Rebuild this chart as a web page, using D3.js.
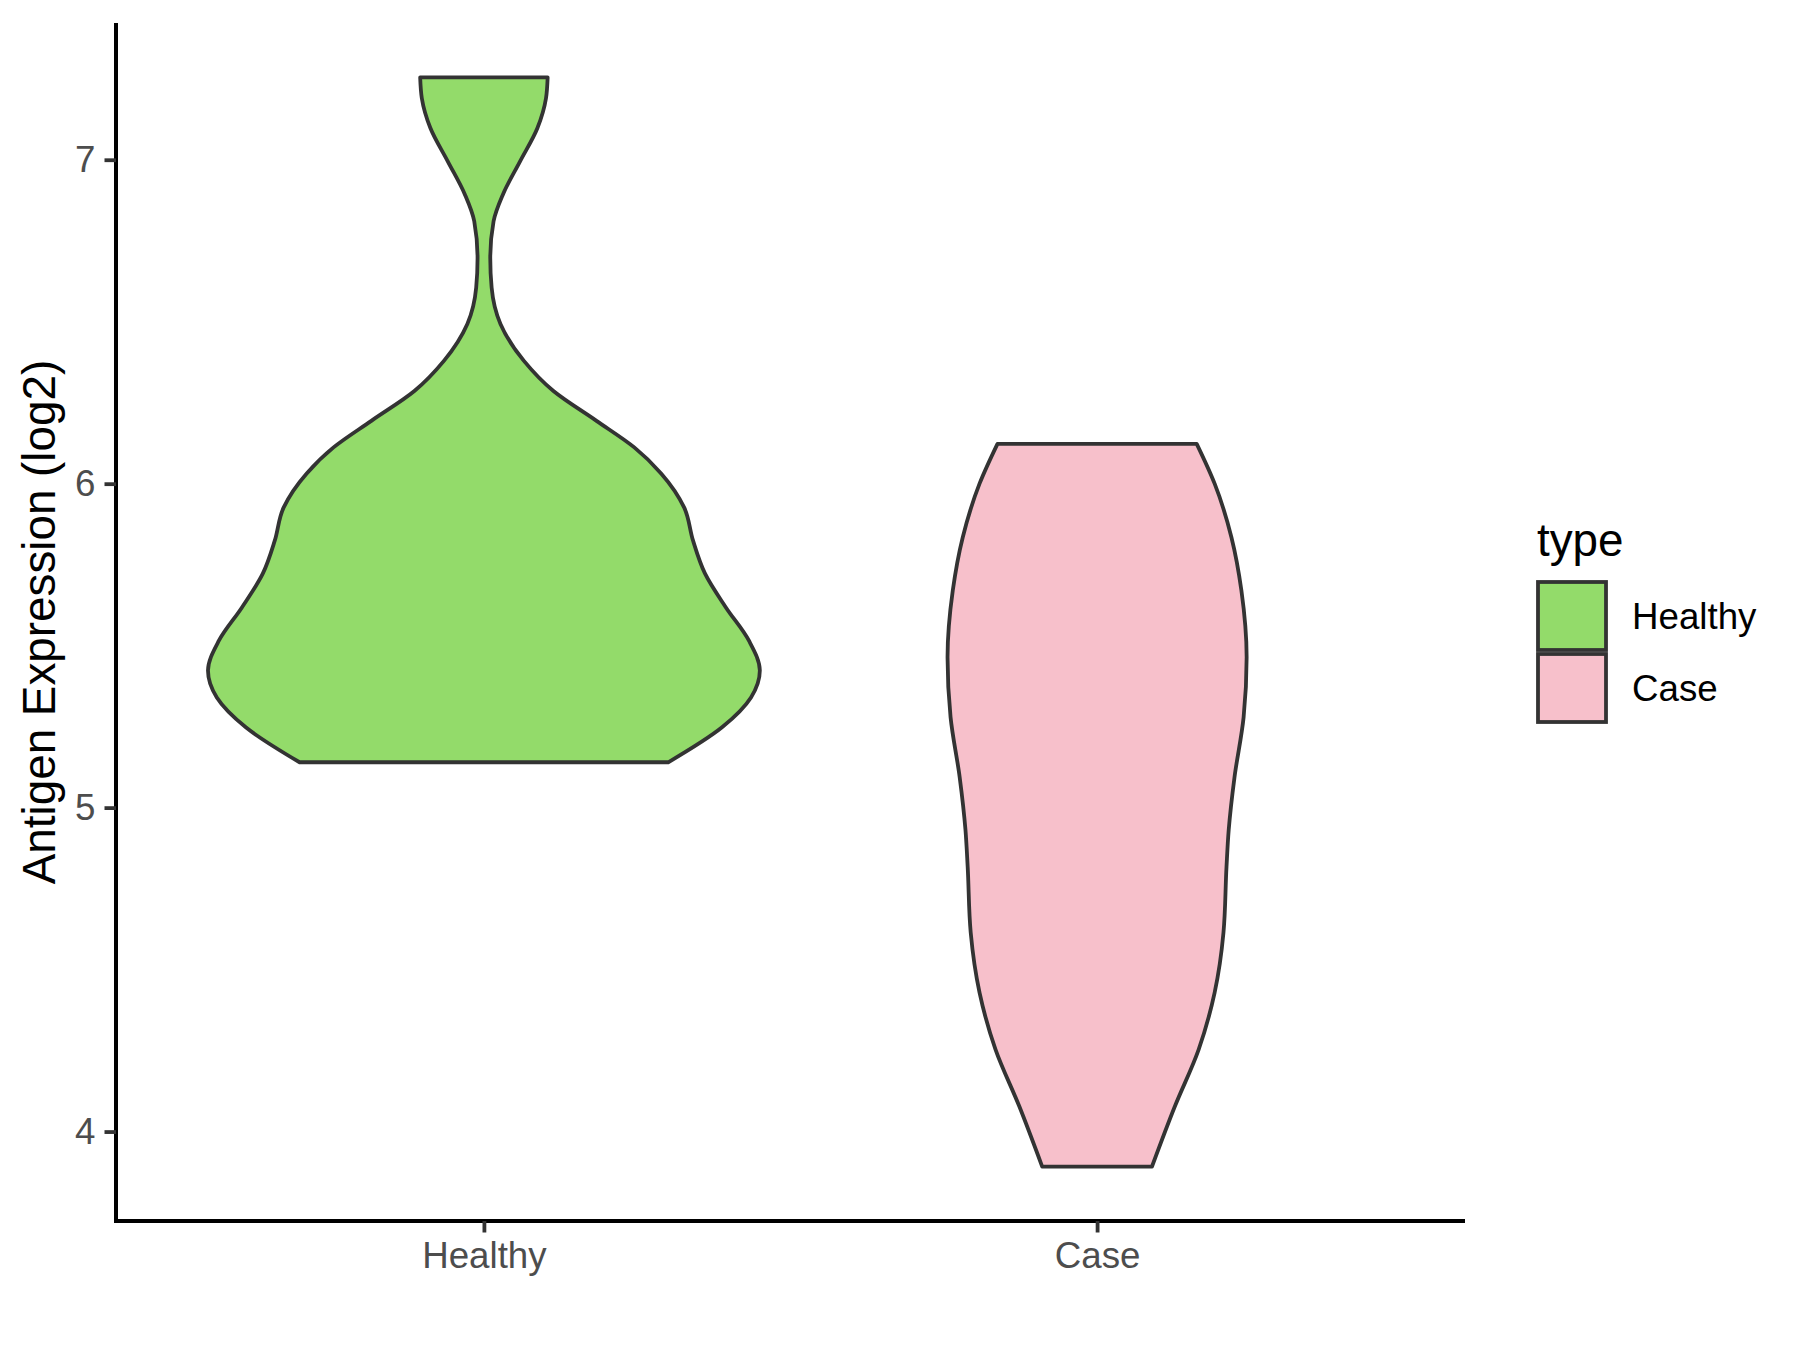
<!DOCTYPE html>
<html>
<head>
<meta charset="utf-8">
<script src="https://cdn.jsdelivr.net/npm/d3@7"></script>
<style>
  body { margin: 0; background: #fff; }
  svg { display: block; font-family: 'Liberation Sans', Arial, sans-serif; }
</style>
</head>
<body>
<svg id="chart"></svg>
<script>
// categories and y ticks
const categories = ['Healthy', 'Case']
const yTicks = [4, 5, 6, 7]

// violin outlines: expression value and relative density
const healthyValues = [7.254, 7.190, 7.098, 6.995, 6.893, 6.810, 6.697, 6.605, 6.493, 6.379, 6.286, 6.194, 6.112, 6.031, 5.926, 5.824, 5.723, 5.618, 5.516, 5.423, 5.340, 5.248, 5.140]
const healthyDensity = [0.231, 0.225, 0.194, 0.131, 0.069, 0.035, 0.023, 0.028, 0.060, 0.145, 0.252, 0.408, 0.545, 0.643, 0.726, 0.758, 0.801, 0.877, 0.960, 1.0, 0.968, 0.863, 0.668]
const caseValues = [6.123, 6.000, 5.834, 5.670, 5.464, 5.279, 5.094, 4.931, 4.817, 4.614, 4.429, 4.253, 4.078, 3.892]
const caseDensity = [0.361, 0.426, 0.487, 0.523, 0.542, 0.531, 0.498, 0.477, 0.469, 0.458, 0.426, 0.368, 0.282, 0.199]

const fillColors = ['#93DB6A', '#F7C0CB']
const size = { width: 1800, height: 1350 }
const panel = { left: 116, right: 1465, top: 23, bottom: 1221 }

const svg = d3.select('#chart')
  .attr('width', size.width)
  .attr('height', size.height)

svg.append('rect')
  .attr('width', size.width)
  .attr('height', size.height)
  .attr('fill', '#fff')

const violins = [
  { key: 'Healthy', values: healthyValues, density: healthyDensity },
  { key: 'Case', values: caseValues, density: caseDensity }
]

// SCALES
const allValues = healthyValues.concat(caseValues)
const [vMin, vMax] = d3.extent(allValues)
const pad = (vMax - vMin) * 0.05
const y = d3.scaleLinear()
  .domain([vMin - pad, vMax + pad])
  .range([panel.bottom, panel.top])
const x = d3.scalePoint()
  .domain(categories)
  .range([panel.left, panel.right])
  .padding(0.6)
const maxDensity = d3.max(healthyDensity.concat(caseDensity))
const w = d3.scaleLinear()
  .domain([0, maxDensity])
  .range([0, x.step() * 0.9 / 2])
const color = d3.scaleOrdinal().domain(categories).range(fillColors)

// DRAW VIOLINS
violins.forEach(v => {
  const pts = v.values.map((val, i) => ({ val, d: v.density[i] }))
  const cx = x(v.key)
  const area = d3.area()
    .y(d => y(d.val))
    .x0(d => cx - w(d.d))
    .x1(d => cx + w(d.d))
    .curve(d3.curveMonotoneY)
  svg.append('path')
    .attr('d', area(pts))
    .attr('fill', color(v.key))
    .attr('stroke', '#333333')
    .attr('stroke-width', 3.8)
    .attr('stroke-linejoin', 'round')
})

// AXES
const yAxis = d3.axisLeft(y)
  .tickValues(yTicks)
  .tickFormat(d3.format('d'))
  .tickSize(11.5)
  .tickSizeOuter(0)
  .tickPadding(9)
const xAxis = d3.axisBottom(x)
  .tickSize(11.5)
  .tickSizeOuter(0)
  .tickPadding(9)

const gy = svg.append('g')
  .attr('transform', `translate(${panel.left},0)`)
  .call(yAxis)
const gx = svg.append('g')
  .attr('transform', `translate(0,${panel.bottom})`)
  .call(xAxis)

;[gx, gy].forEach(g => {
  g.select('.domain').attr('stroke', '#000').attr('stroke-width', 4)
  g.selectAll('.tick line').attr('stroke', '#333333').attr('stroke-width', 3.8)
  g.selectAll('.tick text')
    .attr('fill', '#4D4D4D')
    .style('font-size', '36.7px')
    .style('font-family', "'Liberation Sans', Arial, sans-serif")
})
gy.select('.domain').attr('d', `M0,${panel.top}V${panel.bottom + 2}`)
gx.select('.domain').attr('d', `M${panel.left - 2},0H${panel.right}`)

// axis title
svg.append('text')
  .attr('transform', `translate(55,${(panel.top + panel.bottom) / 2}) rotate(-90)`)
  .attr('text-anchor', 'middle')
  .attr('fill', '#000')
  .style('font-size', '45.8px')
  .text('Antigen Expression (log2)')

// LEGEND
const legend = svg.append('g').attr('transform', 'translate(1536,580)')
legend.append('text')
  .attr('x', 1)
  .attr('y', -24)
  .attr('fill', '#000')
  .style('font-size', '45.8px')
  .text('type')
const items = legend.selectAll('.item')
  .data(categories)
  .enter()
  .append('g')
  .attr('class', 'item')
  .attr('transform', (d, i) => `translate(0,${i * 72})`)
items.append('rect')
  .attr('x', 2)
  .attr('y', 2)
  .attr('width', 68)
  .attr('height', 68)
  .attr('fill', d => color(d))
  .attr('stroke', '#333333')
  .attr('stroke-width', 3.8)
items.append('text')
  .attr('x', 96)
  .attr('y', 49)
  .attr('fill', '#000')
  .style('font-size', '36.7px')
  .text(d => d)
</script>
</body>
</html>
